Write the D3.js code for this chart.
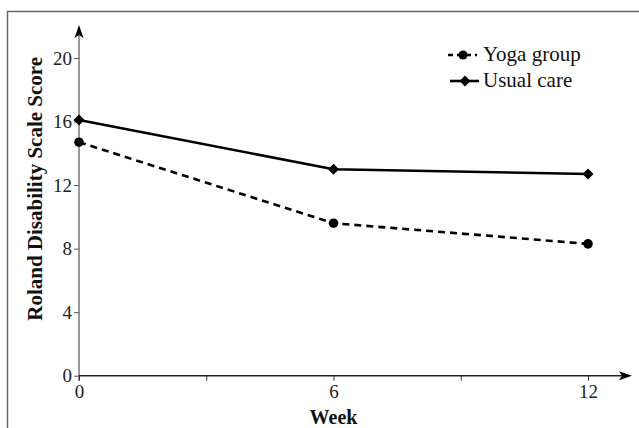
<!DOCTYPE html>
<html><head><meta charset="utf-8">
<script src="https://cdn.jsdelivr.net/npm/d3@7"></script>
<style>body{margin:0;background:#fff}svg{display:block}text{font-family:"Liberation Serif","Times New Roman",serif}</style>
</head><body>
<svg id="c" width="639" height="428"></svg>
<script>
const weeks = [0, 6, 12];
const yogaGroup = [14.7, 9.6, 8.3];
const usualCare = [16.1, 13.0, 12.7];
const seriesNames = ["Yoga group", "Usual care"];
const yTicks = [0, 4, 8, 12, 16, 20];
const xTicks = [0, 3, 6, 9, 12];
const xLabels = [0, 6, 12];

const svg = d3.select("#c");
const serif = '"Liberation Serif", "Times New Roman", serif';
const x = d3.scaleLinear().domain([0, 12]).range([79, 588]);
const y = d3.scaleLinear().domain([0, 20]).range([375.7, 58]);

// frame
svg.append("rect").attr("x", 7.5).attr("y", 11.5).attr("width", 700).attr("height", 500)
  .attr("fill", "none").attr("stroke", "#666").attr("stroke-width", 1.5);

// y axis
const yAx = svg.append("g").attr("transform", `translate(${x(0)},0)`)
  .call(d3.axisLeft(y).tickValues(yTicks).tickSize(5).tickPadding(2).tickFormat(d3.format("d")));
yAx.attr("font-family", null).attr("font-size", null);
yAx.select(".domain").remove();
yAx.selectAll(".tick line").attr("stroke", "#555").attr("stroke-width", 1);
yAx.selectAll(".tick text").style("font-family", serif).style("font-size", "19px").attr("fill", "#222");
svg.append("line").attr("x1", x(0)).attr("x2", x(0)).attr("y1", y(0) + 5).attr("y2", 30)
  .attr("stroke", "#555").attr("stroke-width", 1.2);
svg.append("path").attr("d", `M${x(0)},25 L${x(0)+4.5},38 L${x(0)},35 L${x(0)-4.5},38 Z`).attr("fill", "#000");

// x axis
const xAx = svg.append("g").attr("transform", `translate(0,${y(0)})`)
  .call(d3.axisBottom(x).tickValues(xTicks).tickSize(5).tickPadding(4)
    .tickFormat(d => xLabels.includes(d) ? d : ""));
xAx.attr("font-family", null).attr("font-size", null);
xAx.select(".domain").remove();
xAx.selectAll(".tick line").attr("stroke", "#333").attr("stroke-width", 1);
xAx.selectAll(".tick text").style("font-family", serif).style("font-size", "19px").attr("fill", "#222");
svg.append("line").attr("x1", x(0)).attr("x2", 626).attr("y1", y(0)).attr("y2", y(0))
  .attr("stroke", "#222").attr("stroke-width", 1.5);
svg.append("path").attr("d", `M632,${y(0)} L619,${y(0)-4.5} L622,${y(0)} L619,${y(0)+4.5} Z`).attr("fill", "#000");

// axis titles
svg.append("text").attr("transform", `translate(42,${(y(0)+y(20))/2 - 28}) rotate(-90)`)
  .attr("text-anchor", "middle").style("font-family", serif).style("font-weight", "bold")
  .style("font-size", "21px").attr("fill", "#111").text("Roland Disability Scale Score");
svg.append("text").attr("x", x(6)).attr("y", 424).attr("text-anchor", "middle")
  .style("font-family", serif).style("font-weight", "bold").style("font-size", "20px")
  .attr("fill", "#111").text("Week");

// lines
const line = d3.line().x((d, i) => x(weeks[i])).y(d => y(d));
svg.append("path").datum(usualCare).attr("d", line).attr("fill", "none")
  .attr("stroke", "#000").attr("stroke-width", 2.6);
svg.append("path").datum(yogaGroup).attr("d", line).attr("fill", "none")
  .attr("stroke", "#000").attr("stroke-width", 2.6).attr("stroke-dasharray", "7,5");

const diamond = (cx, cy, r) => `M${cx},${cy-r} L${cx+r},${cy} L${cx},${cy+r} L${cx-r},${cy} Z`;
svg.selectAll(".uc").data(usualCare).enter().append("path")
  .attr("d", (d, i) => diamond(x(weeks[i]), y(d), 5.5)).attr("fill", "#000");
svg.selectAll(".yg").data(yogaGroup).enter().append("circle")
  .attr("cx", (d, i) => x(weeks[i])).attr("cy", d => y(d)).attr("r", 4.8).attr("fill", "#000");

// legend
const lg = svg.append("g");
lg.append("line").attr("x1", 448).attr("x2", 477).attr("y1", 55).attr("y2", 55)
  .attr("stroke", "#000").attr("stroke-width", 2.6).attr("stroke-dasharray", "5,4");
lg.append("circle").attr("cx", 463).attr("cy", 55).attr("r", 4.5).attr("fill", "#000");
lg.append("line").attr("x1", 450).attr("x2", 479).attr("y1", 81).attr("y2", 81)
  .attr("stroke", "#000").attr("stroke-width", 2.6);
lg.append("path").attr("d", diamond(465, 81, 5.5)).attr("fill", "#000");
lg.selectAll("text").data(seriesNames).enter().append("text")
  .attr("x", 483).attr("y", (d, i) => 61 + i * 26)
  .style("font-family", serif).style("font-size", "21px").attr("fill", "#111").text(d => d);
</script>
</body></html>
